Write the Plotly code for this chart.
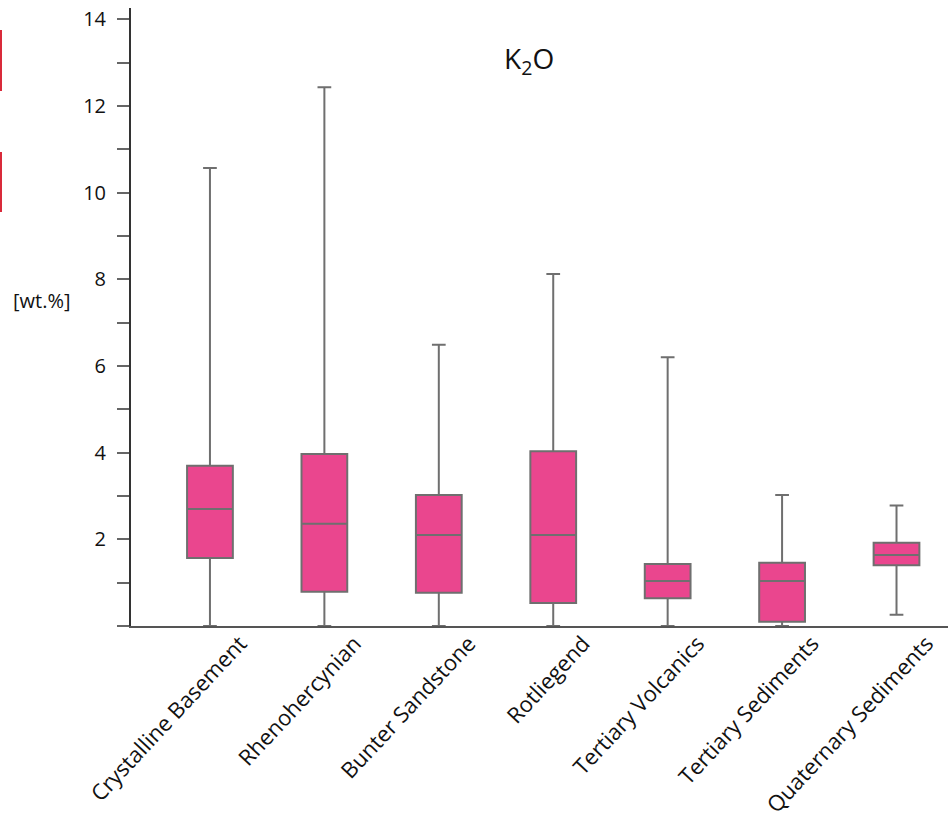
import plotly.graph_objects as go

# K2O concentration statistics per geological unit [wt.%]
units = [
    "Crystalline Basement",
    "Rhenohercynian",
    "Bunter Sandstone",
    "Rotliegend",
    "Tertiary Volcanics",
    "Tertiary Sediments",
    "Quaternary Sediments",
]
lower_whisker = [0.0, 0.0, 0.0, 0.0, 0.0, 0.0, 0.26]
q1 = [1.57, 0.79, 0.77, 0.53, 0.64, 0.10, 1.40]
median = [2.70, 2.36, 2.10, 2.10, 1.04, 1.04, 1.64]
q3 = [3.70, 3.97, 3.02, 4.03, 1.43, 1.46, 1.92]
upper_whisker = [10.57, 12.43, 6.49, 8.12, 6.20, 3.02, 2.78]

major_ticks = [2, 4, 6, 8, 10, 12, 14]
minor_ticks = [0, 1, 3, 5, 7, 9, 11, 13]

FONT = "Open Sans"
TEXT = "#111111"
LINE = "#6f6f6f"
FILL = "#ea468e"

W, H = 948, 819
ML, MR, MT, MB = 131, 0, 8, 193
plot_w = W - ML - MR
plot_h = H - MT - MB


def px_to_paper(px, py):
    """Convert page pixel coordinates to paper coordinates."""
    return (px - ML) / plot_w, (H - MB - py) / plot_h


fig = go.Figure()
fig.add_trace(go.Box(
    x=units,
    q1=q1,
    median=median,
    q3=q3,
    lowerfence=lower_whisker,
    upperfence=upper_whisker,
    fillcolor=FILL,
    line=dict(color=LINE, width=2),
    width=0.4,
    whiskerwidth=0.3,
    boxpoints=False,
    hoverinfo="y",
    showlegend=False,
))

title_x, title_y = px_to_paper(529, 60)
unit_x, unit_y = px_to_paper(42, 300)

fig.update_layout(
    width=W,
    height=H,
    margin=dict(l=ML, r=MR, t=MT, b=MB),
    paper_bgcolor="white",
    plot_bgcolor="white",
    font=dict(family=FONT, size=16, color=TEXT),
    xaxis=dict(
        type="category",
        range=[-0.69, 6.45],
        showgrid=False,
        zeroline=False,
        showline=True,
        linecolor="#555555",
        linewidth=2,
        ticks="",
        tickangle=-47,
        ticklabelshift=30,
        ticklabelstandoff=-6,
        tickfont=dict(family=FONT, size=22, color=TEXT),
    ),
    yaxis=dict(
        range=[0, 14.26],
        showgrid=False,
        zeroline=False,
        showline=True,
        linecolor="#333333",
        linewidth=2,
        tickmode="array",
        tickvals=major_ticks,
        ticktext=[str(v) for v in major_ticks],
        ticks="outside",
        ticklen=12,
        tickwidth=2,
        tickcolor="#666666",
        ticklabelstandoff=7,
        tickfont=dict(family=FONT, size=20, color=TEXT),
        minor=dict(
            tickvals=minor_ticks,
            ticks="outside",
            ticklen=12,
            tickwidth=2,
            tickcolor="#666666",
        ),
    ),
    annotations=[
        dict(
            text="K<sub>2</sub>O",
            x=title_x, y=title_y, xref="paper", yref="paper",
            xanchor="center", yanchor="middle",
            showarrow=False, font=dict(family=FONT, size=28, color=TEXT),
        ),
        dict(
            text="[wt.%]",
            x=unit_x, y=unit_y, xref="paper", yref="paper",
            xanchor="center", yanchor="middle",
            showarrow=False, font=dict(family=FONT, size=20, color=TEXT),
        ),
    ],
)

# red edge marks at the left border
for y0, y1 in [(30, 91), (152, 212)]:
    x0p, y0p = px_to_paper(1, y0)
    _, y1p = px_to_paper(1, y1)
    fig.add_shape(
        type="line", xref="paper", yref="paper",
        x0=x0p, x1=x0p, y0=y0p, y1=y1p,
        line=dict(color="#d92a3a", width=2),
    )

fig.write_html("out.html")
